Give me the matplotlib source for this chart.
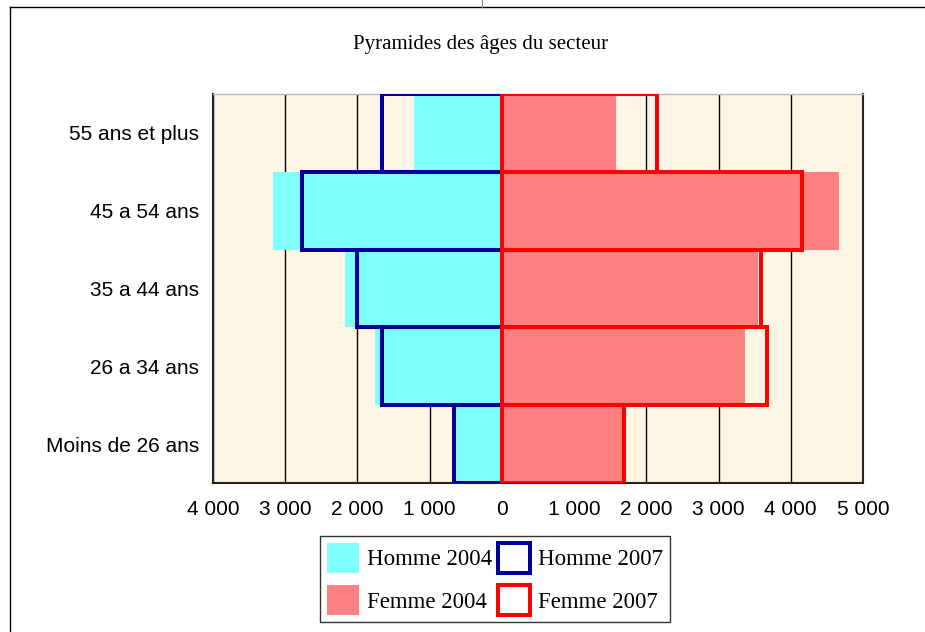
import matplotlib.pyplot as plt
from matplotlib.lines import Line2D
from matplotlib.patches import Patch
import numpy as np

categories = ["55 ans et plus", "45 a 54 ans", "35 a 44 ans", "26 a 34 ans", "Moins de 26 ans"]
homme_2004 = [1220, 3170, 2170, 1760, 650]
homme_2007 = [1655, 2765, 2000, 1655, 660]
femme_2004 = [1580, 4665, 3540, 3365, 1680]
femme_2007 = [2150, 4150, 3590, 3675, 1685]
xticks = [-4000, -3000, -2000, -1000, 0, 1000, 2000, 3000, 4000, 5000]

cyan = '#80FFFF'
salmon = '#FF8080'
blue = '#000099'
red = '#FF0000'

fig = plt.figure(figsize=(9.25, 6.32), dpi=100)
ax = fig.add_axes([0.2303, 0.2358, 0.7027, 0.6155])
ax.set_facecolor('#FEF5E5')

y = np.arange(len(categories))

ax.barh(y, -np.array(homme_2004), height=1.0, color=cyan, zorder=2)
ax.barh(y, femme_2004, height=1.0, color=salmon, zorder=2)
ax.barh(y, -np.array(homme_2007), height=1.0, facecolor='none',
        edgecolor=blue, linewidth=2.9, zorder=3)
ax.barh(y, femme_2007, height=1.0, facecolor='none',
        edgecolor=red, linewidth=2.9, zorder=4)

ax.set_xlim(-4000, 5000)
ax.set_ylim(len(categories) - 0.5, -0.5)

ax.set_xticks(xticks)
ax.set_xticklabels([f"{abs(v):,}".replace(",", " ") for v in xticks],
                   fontfamily='Liberation Sans', fontsize=15)
ax.set_yticks(y)
ax.set_yticklabels(categories, fontfamily='Liberation Sans', fontsize=15)
ax.tick_params(axis='x', length=0, pad=12)
ax.tick_params(axis='y', length=0, pad=10)

ax.grid(axis='x', color='black', linewidth=1.0, zorder=1)
ax.set_axisbelow(True)
for side in ['left', 'right', 'bottom']:
    ax.spines[side].set_color('#222222')
    ax.spines[side].set_linewidth(1.5)
ax.spines['top'].set_color('#bbbbbb')
ax.spines['top'].set_linewidth(1.0)

fig.text(0.519, 0.929, "Pyramides des âges du secteur", ha='center', va='center',
         fontfamily='Liberation Serif', fontsize=15)

handles = [
    Patch(facecolor=cyan, edgecolor='none', label='Homme 2004'),
    Patch(facecolor=salmon, edgecolor='none', label='Femme 2004'),
    Patch(facecolor='white', edgecolor=blue, linewidth=2.9, label='Homme 2007'),
    Patch(facecolor='white', edgecolor=red, linewidth=2.9, label='Femme 2007'),
]
leg = fig.legend(handles=handles, ncol=2, loc='center',
                 bbox_to_anchor=(495 / 925, 1 - 579 / 632),
                 prop={'family': 'Liberation Serif', 'size': 16.5},
                 frameon=True, fancybox=False, shadow=False,
                 handlelength=1.4, handleheight=1.6, handletextpad=0.35,
                 columnspacing=0.25, labelspacing=0.55, borderpad=0.3,
                 borderaxespad=0)
leg.get_frame().set_edgecolor('black')
leg.get_frame().set_linewidth(1.0)

# outer chart border
fig.add_artist(Line2D([10 / 925, 1.0], [1 - 7 / 632, 1 - 7 / 632],
                      transform=fig.transFigure, color='black', linewidth=1.0))
fig.add_artist(Line2D([10 / 925, 10 / 925], [0.0, 1 - 7 / 632],
                      transform=fig.transFigure, color='black', linewidth=1.0))
fig.add_artist(Line2D([482 / 925, 482 / 925], [1 - 7 / 632, 1.0],
                      transform=fig.transFigure, color='#888888', linewidth=0.8))

fig.savefig('out.png', dpi=100)
